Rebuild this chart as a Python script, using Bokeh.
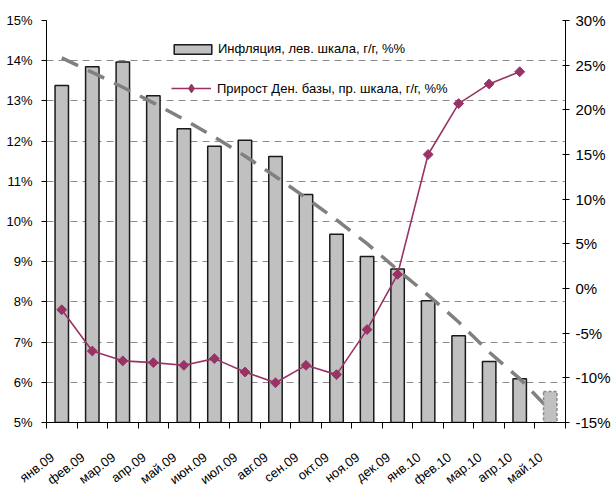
import numpy as np
from bokeh.plotting import figure
from bokeh.models import (Range1d, LinearAxis, FixedTicker, PrintfTickFormatter,
                          CustomJSTickFormatter, ColumnDataSource, Legend, LegendItem)
from bokeh.embed import file_html
from bokeh.resources import INLINE

# ---- data ----
months = ["янв.09", "фев.09", "мар.09", "апр.09", "май.09", "июн.09", "июл.09", "авг.09",
          "сен.09", "окт.09", "ноя.09", "дек.09", "янв.10", "фев.10", "мар.10", "апр.10", "май.10"]
inflation = [13.38, 13.85, 13.97, 13.13, 12.31, 11.87, 12.02, 11.62,
             10.67, 9.68, 9.13, 8.82, 8.03, 7.16, 6.52, 6.09]
inflation_forecast = [5.77]          # май.10 (forecast, dashed outline)
money_base = [-2.38, -7.0, -8.1, -8.3, -8.6, -7.85, -9.35, -10.55,
              -8.6, -9.64, -4.6, 1.58, 15.0, 20.7, 22.9, 24.26]
trend = [14.07, 13.71, 13.34, 12.95, 12.54, 12.10, 11.63, 11.12,
         10.59, 10.04, 9.45, 8.80, 8.17, 7.50, 6.75, 6.09, 5.30]
left_ticks = [5, 6, 7, 8, 9, 10, 11, 12, 13, 14, 15]
right_ticks = [-15, -10, -5, 0, 5, 10, 15, 20, 25, 30]

label_shift = 0.30
FONT = "Liberation Sans"

n = len(months)
idx = list(range(n))
bar_src = ColumnDataSource(dict(x=idx[:len(inflation)], top=inflation))
fc_src = ColumnDataSource(dict(x=idx[len(inflation):], top=inflation_forecast))
line_src = ColumnDataSource(dict(x=idx[:len(money_base)], y=money_base))
trend_src = ColumnDataSource(dict(x=idx[:len(trend)], y=trend))

p = figure(frame_width=519, frame_height=402, output_backend="svg", toolbar_location=None,
           x_range=Range1d(-0.5, n - 0.5), y_range=Range1d(left_ticks[0], left_ticks[-1]),
           min_border_left=46, min_border_right=47, min_border_top=20, min_border_bottom=69,
           background_fill_color="white", border_fill_color="white")
p.outline_line_color = None
p.extra_y_ranges = {"right": Range1d(right_ticks[0], right_ticks[-1])}

# grid
p.xgrid.visible = False
p.ygrid.ticker = FixedTicker(ticks=left_ticks)
p.ygrid.grid_line_color = "#8c8c8c"
p.ygrid.grid_line_dash = "7 5"
p.ygrid.grid_line_width = 1

# bars
bars = p.vbar(x="x", top="top", bottom=left_ticks[0], width=0.44, source=bar_src,
              fill_color="#c0c0c0", line_color="#1a1a1a", line_width=1.5)
# trend line
p.line(x="x", y="y", source=trend_src, line_color="#808080", line_width=3.5, line_dash="18 11")
# forecast bar
p.vbar(x="x", top="top", bottom=left_ticks[0], width=0.44, source=fc_src,
       fill_color="#c0c0c0", line_color="#8a8a8a", line_width=1.5, line_dash="3 2")
# money base line
ln = p.line(x="x", y="y", source=line_src, y_range_name="right",
            line_color="#993366", line_width=1.6)
sc = p.scatter(x="x", y="y", source=line_src, y_range_name="right", marker="square",
               size=7, angle=np.pi / 4, fill_color="#993366", line_color="#993366")
# hidden twin with diamond markers, used only for the legend symbol
leg_mk = p.scatter(x="x", y="y", source=line_src, y_range_name="right", marker="diamond",
                   fill_color="#993366", line_color="#993366", visible=False)

# bottom axis: boundary ticks + rotated month labels
xa = p.xaxis[0]
xa.ticker = FixedTicker(ticks=[i - label_shift for i in idx],
                        minor_ticks=[i - 0.5 for i in range(n + 1)])
xa.formatter = CustomJSTickFormatter(args=dict(labels=months, shift=label_shift),
                                     code="return labels[Math.round(tick + shift)];")
xa.major_label_orientation = 0.65
xa.major_tick_line_color = None
xa.major_tick_in = 0
xa.major_tick_out = 6
xa.minor_tick_in = 0
xa.minor_tick_out = 6
xa.minor_tick_line_color = "black"
xa.axis_line_color = "black"
xa.major_label_standoff = 27
xa.major_label_text_font = FONT
xa.major_label_text_font_size = "13px"
xa.major_label_text_color = "black"

ya = p.yaxis[0]
ya.ticker = FixedTicker(ticks=left_ticks)
ya.formatter = PrintfTickFormatter(format="%d%%")
ya.major_tick_in = 0
ya.major_tick_out = 5
ya.minor_tick_line_color = None
ya.axis_line_color = "black"
ya.major_label_standoff = 9
ya.major_label_text_font = FONT
ya.major_label_text_font_size = "13px"
ya.major_label_text_color = "black"

ra = LinearAxis(y_range_name="right", ticker=FixedTicker(ticks=right_ticks),
                formatter=PrintfTickFormatter(format="%d%%"))
ra.major_tick_in = 3
ra.major_tick_out = 4
ra.minor_tick_line_color = None
ra.axis_line_color = "black"
ra.major_label_standoff = 6
ra.major_label_text_font = FONT
ra.major_label_text_font_size = "15px"
ra.major_label_text_color = "black"
p.add_layout(ra, "right")

legend1 = Legend(items=[LegendItem(label="Инфляция, лев. шкала, г/г, %%", renderers=[bars])],
                 location=(123, 366))
legend1.background_fill_color = "white"
legend1.background_fill_alpha = 1
legend1.border_line_color = None
legend1.glyph_width = 47
legend1.glyph_height = 12
legend1.label_height = 14
legend1.label_width = 240
legend1.padding = 8
legend1.label_standoff = 2
legend1.label_text_font = FONT
legend1.label_text_font_size = "13px"
legend1.label_text_color = "black"
p.add_layout(legend1, "center")

legend2 = Legend(items=[LegendItem(label="Прирост Ден. базы, пр. шкала, г/г, %%",
                                   renderers=[ln, leg_mk])],
                 location=(125, 323))
legend2.background_fill_alpha = 0
legend2.border_line_color = None
legend2.glyph_width = 40
legend2.glyph_height = 22
legend2.label_height = 14
legend2.padding = 4
legend2.label_standoff = 6
legend2.label_text_font = FONT
legend2.label_text_font_size = "13px"
legend2.label_text_color = "black"
p.add_layout(legend2, "center")

open("out.html", "w").write(file_html(p, INLINE))
